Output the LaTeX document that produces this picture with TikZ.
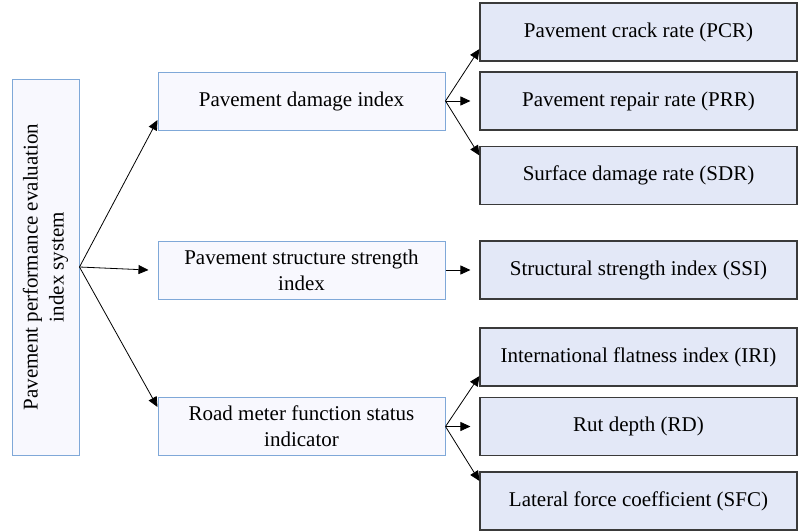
\documentclass[tikz,border=0pt]{standalone}
\usepackage{fontspec}
\setmainfont{Liberation Serif}
\usetikzlibrary{arrows.meta}
\definecolor{midfill}{HTML}{F8F8FE}
\definecolor{midline}{HTML}{7FA8D8}
\definecolor{leaffill}{HTML}{E3E8F7}
\definecolor{leafline}{HTML}{3A3A3A}
\tikzset{
  boxfont/.style={font=\fontsize{21}{26}\selectfont},
  midbox/.style={draw=midline, fill=midfill, line width=1pt, minimum width=287pt, minimum height=58pt, inner sep=2pt, align=center, boxfont},
  leafbox/.style={draw=leafline, fill=leaffill, line width=1.1pt, minimum width=317pt, minimum height=58pt, inner sep=2pt, align=center, boxfont},
  rootbox/.style={draw=midline, fill=midfill, line width=1pt, minimum width=376pt, minimum height=67pt, inner sep=2pt, align=center, rotate=90, boxfont},
  arr/.style={-{Triangle[length=10pt,width=9pt]}, line width=0.8pt, black}
}
\begin{document}
\begin{tikzpicture}[x=1pt,y=-1pt]
\useasboundingbox (0,0) rectangle (798,531);
\node[rootbox] (root) at (45.5,267) {Pavement performance evaluation\\index system};
\node[midbox] (m1) at (301.5,101) {Pavement damage index};
\node[midbox] (m2) at (301.5,270) {Pavement structure strength\\index};
\node[midbox] (m3) at (301.5,426.5) {Road meter function status\\indicator};
\node[leafbox] (pcr) at (638.5,32) {Pavement crack rate (PCR)};
\node[leafbox] (prr) at (638.5,101) {Pavement repair rate (PRR)};
\node[leafbox] (sdr) at (638.5,175.5) {Surface damage rate (SDR)};
\node[leafbox] (ssi) at (638.5,270) {Structural strength index (SSI)};
\node[leafbox] (iri) at (638.5,357) {International flatness index (IRI)};
\node[leafbox] (rd) at (638.5,426.5) {Rut depth (RD)};
\node[leafbox] (sfc) at (638.5,501) {Lateral force coefficient (SFC)};
\draw[arr] (root.south) -- ([yshift=-19pt]m1.west);
\draw[arr] (root.south) -- ([xshift=-9pt]m2.west);
\draw[arr] (root.south) -- ([yshift=19.5pt]m3.west);
\draw[arr] (m1.east) -- ([yshift=-17pt]pcr.west);
\draw[arr] (m1.east) -- ([xshift=-9pt]prr.west);
\draw[arr] (m1.east) -- ([yshift=20pt]sdr.west);
\draw[arr] (m2.east) -- ([xshift=-9pt]ssi.west);
\draw[arr] (m3.east) -- ([yshift=-19pt]iri.west);
\draw[arr] (m3.east) -- ([xshift=-9pt]rd.west);
\draw[arr] (m3.east) -- ([yshift=20pt]sfc.west);
\end{tikzpicture}
\end{document}
